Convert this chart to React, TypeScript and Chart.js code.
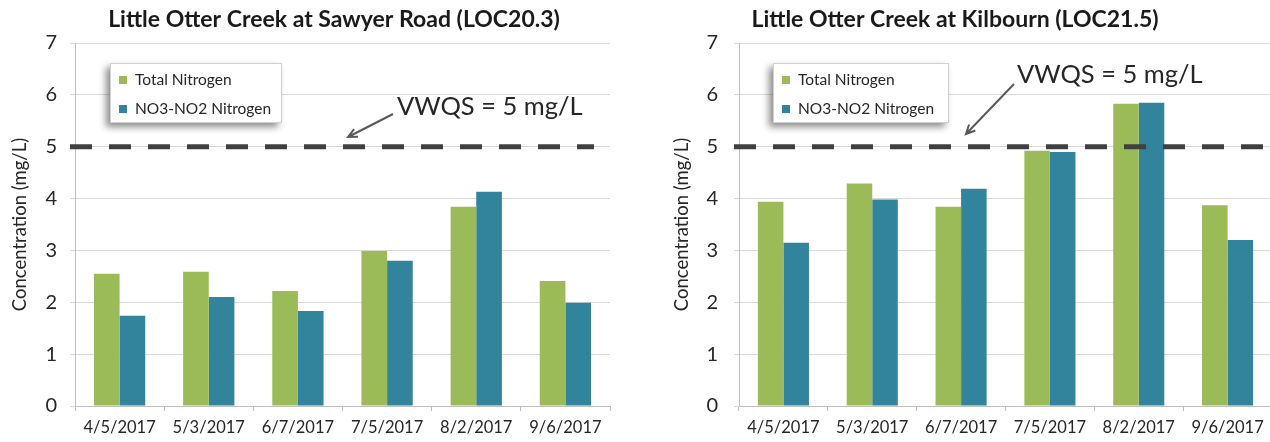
import React, { useEffect, useRef } from "react";
import { Chart, registerables } from "chart.js";

Chart.register(...registerables);

const DATES = ["4/5/2017", "5/3/2017", "6/7/2017", "7/5/2017", "8/2/2017", "9/6/2017"];
const SAWYER_TOTAL_N = [2.55, 2.59, 2.22, 2.99, 3.84, 2.41];
const SAWYER_NO3_NO2 = [1.74, 2.1, 1.83, 2.8, 4.13, 1.99];
const KILBOURN_TOTAL_N = [3.94, 4.29, 3.84, 4.92, 5.83, 3.87];
const KILBOURN_NO3_NO2 = [3.15, 3.98, 4.19, 4.9, 5.85, 3.2];
const SERIES_NAMES = ["Total Nitrogen", "NO3-NO2 Nitrogen"];
const Y_MIN = 0;
const Y_MAX = 7;
const VWQS = 5;
const VWQS_LABEL = "VWQS = 5 mg/L";
const Y_TITLE = "Concentration (mg/L)";
const TITLE_SAWYER = "Little Otter Creek at Sawyer Road (LOC20.3)";
const TITLE_KILBOURN = "Little Otter Creek at Kilbourn (LOC21.5)";

const GREEN = "#9bbb59";
const TEAL = "#31849b";
const FONT = "Lato, 'Open Sans', sans-serif";

const overlayPlugin = {
  id: "overlay",
  afterDatasetsDraw(chart: any, _args: any, o: any) {
    const { ctx, chartArea } = chart;
    const y = chart.scales.y;
    const yy = y.getPixelForValue(VWQS);
    ctx.save();
    ctx.setLineDash([22, 17]);
    ctx.lineWidth = 5;
    ctx.strokeStyle = "#404040";
    ctx.beginPath();
    ctx.moveTo(chartArea.left - 5, yy);
    ctx.lineTo(o.dashEnd, yy);
    ctx.stroke();
    ctx.setLineDash([]);
    ctx.fillStyle = "#262626";
    ctx.font = `25.5px ${FONT}`;
    ctx.textBaseline = "middle";
    ctx.textAlign = "left";
    ctx.fillText(VWQS_LABEL, o.textX, o.textY);
    const [x1, y1, x2, y2] = o.arrow;
    ctx.strokeStyle = "#595959";
    ctx.lineWidth = 2;
    ctx.beginPath();
    ctx.moveTo(x1, y1);
    ctx.lineTo(x2, y2);
    const ang = Math.atan2(y2 - y1, x2 - x1);
    const hl = 10;
    ctx.moveTo(x2 + hl * Math.cos(ang + Math.PI - 0.45), y2 + hl * Math.sin(ang + Math.PI - 0.45));
    ctx.lineTo(x2, y2);
    ctx.lineTo(x2 + hl * Math.cos(ang + Math.PI + 0.45), y2 + hl * Math.sin(ang + Math.PI + 0.45));
    ctx.stroke();
    ctx.restore();
  },
  afterDraw(chart: any, _args: any, o: any) {
    const { ctx } = chart;
    ctx.save();
    ctx.fillStyle = "#1a1a1a";
    ctx.font = `bold 23px ${FONT}`;
    ctx.textAlign = "center";
    ctx.textBaseline = "middle";
    ctx.fillText(o.title, o.titleX, 20);
    const lx = o.legendX, ly = 63, lw = o.legendW, lh = 60;
    ctx.shadowColor = "rgba(0,0,0,0.45)";
    ctx.shadowBlur = 7;
    ctx.shadowOffsetX = -4;
    ctx.shadowOffsetY = 4;
    ctx.fillStyle = "#ffffff";
    ctx.fillRect(lx, ly, lw, lh);
    ctx.shadowColor = "transparent";
    ctx.strokeStyle = "#d0d0d0";
    ctx.lineWidth = 1;
    ctx.strokeRect(lx + 0.5, ly + 0.5, lw - 1, lh - 1);
    ctx.font = `15.5px ${FONT}`;
    ctx.textAlign = "left";
    chart.data.datasets.forEach((ds: any, i: number) => {
      const cy = ly + 17 + i * 29;
      ctx.fillStyle = ds.backgroundColor;
      ctx.fillRect(lx + 9, cy - 4, 8, 8);
      ctx.fillStyle = "#262626";
      ctx.fillText(ds.label, lx + 25, cy);
    });
    ctx.restore();
  },
};

function makeConfig(total: number[], no3: number[], p: any) {
  return {
    type: "bar",
    data: {
      labels: DATES,
      datasets: [
        { label: SERIES_NAMES[0], data: total, backgroundColor: GREEN, borderWidth: 0 },
        { label: SERIES_NAMES[1], data: no3, backgroundColor: TEAL, borderWidth: 0 },
      ],
    },
    plugins: [overlayPlugin],
    options: {
      animation: false,
      responsive: false,
      events: [],
      layout: { padding: { top: 43, right: p.padRight, bottom: 0, left: 0 } },
      datasets: { bar: { categoryPercentage: 0.575, barPercentage: 1 } },
      plugins: {
        legend: { display: false },
        title: { display: false },
        tooltip: { enabled: false },
        overlay: p.overlay,
      },
      scales: {
        x: {
          afterFit(s: any) { s.height = 36; },
          grid: { drawOnChartArea: false, drawTicks: true, tickLength: 5, color: "#bfbfbf" },
          border: { color: "#bfbfbf" },
          ticks: { color: "#262626", font: { family: FONT, size: 16.5 }, padding: 7, maxRotation: 0 },
        },
        y: {
          min: Y_MIN,
          max: Y_MAX,
          afterFit(s: any) { s.width = p.axisWidth; },
          grid: { color: "#d9d9d9", tickLength: 5, drawTicks: true },
          border: { color: "#bfbfbf" },
          ticks: { stepSize: 1, color: "#262626", font: { family: FONT, size: 20 }, padding: p.tickPad },
          title: {
            display: true,
            text: Y_TITLE,
            color: "#262626",
            font: { family: FONT, size: 18.5 },
            padding: { top: p.titlePad, bottom: 0 },
          },
        },
      },
    },
  };
}

function ChartCanvas({ total, no3, p, left, width }: any) {
  const ref = useRef<HTMLCanvasElement>(null);
  useEffect(() => {
    const chart = new Chart(ref.current as HTMLCanvasElement, makeConfig(total, no3, p) as any);
    return () => chart.destroy();
  }, []);
  return (
    <canvas
      ref={ref}
      width={width}
      height={442}
      style={{ position: "absolute", left, top: 0, width, height: 442 }}
    />
  );
}

export default function App() {
  return (
    <div style={{ position: "absolute", left: 0, top: 0, width: 1270, height: 442, overflow: "hidden", background: "#fff" }}>
      <ChartCanvas
        total={SAWYER_TOTAL_N}
        no3={SAWYER_NO3_NO2}
        left={0}
        width={635}
        p={{
          axisWidth: 75,
          padRight: 25,
          tickPad: 13,
          titlePad: 9,
          overlay: {
            title: TITLE_SAWYER,
            titleX: 334,
            legendX: 110,
            legendW: 172,
            dashEnd: 594,
            textX: 397,
            textY: 107,
            arrow: [393, 114, 348, 137],
          },
        }}
      />
      <ChartCanvas
        total={KILBOURN_TOTAL_N}
        no3={KILBOURN_NO3_NO2}
        left={635}
        width={640}
        p={{
          axisWidth: 104,
          padRight: 3,
          tickPad: 16,
          titlePad: 36,
          overlay: {
            title: TITLE_KILBOURN,
            titleX: 320,
            legendX: 138,
            legendW: 176,
            dashEnd: 640,
            textX: 382,
            textY: 75,
            arrow: [379, 84, 331, 134],
          },
        }}
      />
    </div>
  );
}
